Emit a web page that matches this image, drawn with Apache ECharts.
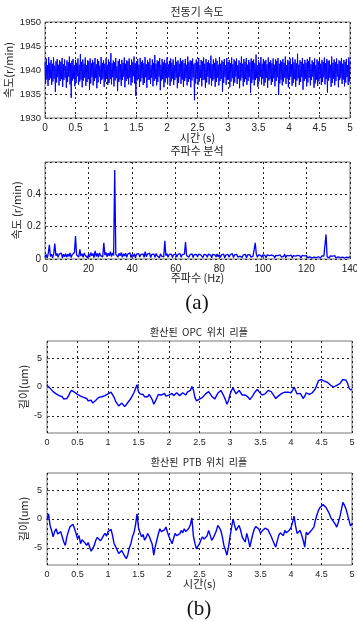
<!DOCTYPE html>
<html><head><meta charset="utf-8">
<script src="https://cdn.jsdelivr.net/npm/echarts@6/dist/echarts.min.js"></script>
<style>html,body{margin:0;padding:0;background:#fff}#c{width:357px;height:621px}</style>
</head><body><div id="c"></div>
<script>
// ---- data ----
const speedDt = 0.01; // s per sample
const speedVals = [
1941.6,1937.2,1942.4,1938.0,1941.0,1936.7,1942.7,1937.9,1941.5,1938.3,1942.1,1936.9,1941.3,1937.6,1942.6,1938.2,1940.9,1935.4,1941.8,1937.4,1942.3,1938.5,1941.1,1936.8,1942.0,
1937.7,1941.7,1938.1,1942.5,1936.5,1941.2,1937.9,1942.2,1938.4,1940.8,1936.3,1942.0,1937.5,1941.6,1938.6,1942.8,1937.0,1941.4,1934.2,1941.9,1937.8,1942.3,1938.2,1941.0,1936.6,
1942.1,1937.3,1941.5,1938.7,1942.4,1936.9,1941.1,1937.6,1943.3,1938.0,1941.7,1936.4,1942.2,1937.8,1941.3,1938.4,1942.6,1936.7,1941.0,1937.5,1942.0,1938.1,1941.8,1935.9,1942.4,
1937.2,1941.4,1938.5,1942.1,1936.8,1941.6,1937.7,1942.5,1938.3,1941.2,1936.2,1942.3,1937.4,1941.9,1938.6,1940.9,1937.1,1942.7,1937.9,1941.5,1938.2,1942.0,1936.5,1941.3,1937.6,
1942.4,1938.4,1941.1,1936.9,1942.2,1937.3,1941.7,1938.1,1943.5,1937.0,1941.4,1938.5,1942.0,1936.6,1941.6,1937.8,1942.5,1938.3,1940.8,1935.6,1941.9,1937.5,1942.3,1938.0,1941.2,
1936.7,1942.1,1937.9,1941.5,1938.6,1942.6,1936.4,1941.3,1937.7,1942.0,1938.2,1941.8,1937.0,1942.4,1938.4,1941.0,1936.8,1942.2,1937.4,1941.6,1938.7,1942.8,1937.2,1941.4,1934.6,
1941.8,1937.8,1942.3,1938.1,1941.1,1936.5,1942.5,1937.6,1941.7,1938.3,1942.0,1936.9,1941.4,1937.3,1942.7,1938.5,1941.2,1936.3,1942.1,1937.9,1941.6,1938.0,1942.4,1937.1,1941.0,
1938.4,1942.2,1936.6,1941.5,1937.7,1943.1,1938.2,1941.3,1936.8,1942.0,1937.5,1941.8,1938.6,1942.5,1935.8,1941.1,1937.8,1942.3,1938.1,1941.6,1936.4,1942.1,1937.4,1941.4,1938.3,
1942.6,1937.0,1941.2,1938.5,1941.9,1936.7,1942.4,1937.6,1941.5,1938.2,1942.2,1936.9,1941.0,1937.9,1942.7,1938.4,1941.7,1936.2,1942.0,1937.3,1941.3,1938.6,1942.5,1937.1,1941.8,
1938.0,1942.1,1936.5,1941.4,1937.7,1942.3,1938.3,1941.1,1936.8,1942.8,1937.5,1941.6,1938.1,1942.0,1936.4,1941.9,1937.8,1942.4,1938.5,1941.2,1933.7,1941.5,1937.2,1942.2,1938.2,
1941.7,1936.9,1942.5,1937.6,1941.0,1938.4,1942.1,1936.6,1941.8,1937.9,1942.6,1938.0,1941.3,1936.3,1942.3,1937.4,1941.6,1938.6,1942.0,1937.0,1941.4,1938.3,1943.0,1936.7,1941.2,
1937.8,1942.2,1938.1,1941.5,1936.5,1942.4,1937.5,1941.9,1938.4,1941.1,1936.8,1942.7,1937.7,1941.3,1938.2,1942.0,1935.5,1941.7,1937.3,1942.3,1938.5,1941.0,1936.9,1942.5,1937.9,
1941.6,1938.0,1942.1,1936.4,1941.4,1937.6,1942.6,1938.3,1941.2,1936.7,1942.2,1937.4,1941.8,1938.6,1942.4,1937.1,1941.0,1938.2,1942.0,1936.2,1941.5,1937.8,1942.8,1938.4,1941.3,
1936.6,1942.3,1937.5,1941.7,1938.1,1942.5,1936.9,1941.1,1937.7,1942.1,1938.5,1941.6,1935.2,1942.4,1937.3,1941.9,1938.0,1942.2,1936.8,1941.4,1937.9,1943.2,1938.3,1941.0,1936.5,
1942.0,1937.6,1941.5,1938.6,1942.7,1937.0,1941.3,1938.2,1942.3,1936.7,1941.8,1937.4,1942.1,1938.4,1941.2,1936.3,1942.6,1937.8,1941.6,1938.1,1942.0,1936.9,1941.4,1937.5,1942.4,
1938.3,1941.1,1936.6,1942.2,1937.7,1941.9,1938.5,1942.5,1934.8,1941.3,1937.2,1942.0,1938.0,1941.7,1936.8,1942.3,1937.6,1941.5,1938.4,1942.8,1937.1,1941.0,1938.2,1942.1,1936.4,
1941.8,1937.9,1942.4,1938.6,1941.2,1936.7,1942.6,1937.3,1941.6,1938.1,1942.2,1936.5,1941.4,1937.8,1943.4,1938.3,1941.1,1936.9,1942.0,1937.5,1941.7,1938.5,1942.5,1935.9,1941.3,
1937.7,1942.1,1938.2,1941.5,1936.6,1942.3,1937.4,1941.9,1938.4,1942.7,1936.8,1941.2,1937.9,1942.0,1938.6,1941.6,1936.3,1942.4,1937.2,1941.0,1938.0,1942.2,1936.7,1941.8,1937.6,
1942.5,1938.3,1941.3,1936.9,1942.1,1937.5,1941.7,1938.5,1942.6,1937.0,1941.4,1938.1,1942.3,1935.3,1941.9,1937.8,1942.0,1938.4,1941.1,1936.5,1942.8,1937.3,1941.5,1938.2,1942.2,
1936.8,1941.6,1937.7,1942.4,1938.6,1941.2,1936.4,1942.0,1937.9,1941.8,1938.3,1942.5,1937.1,1941.3,1938.0,1942.1,1936.6,1941.7,1937.4,1942.3,1938.5,1941.0,1936.9,1942.6,1937.6,
1941.9
];
const specDf = 0.5; // Hz per bin
const specVals = [
0.012,0.028,0.006,0.035,0.088,0.015,0.030,0.008,0.032,0.095,0.020,0.034,0.010,0.030,0.018,0.036,0.007,0.029,0.014,0.033,
0.011,0.030,0.016,0.038,0.009,0.027,0.020,0.040,0.142,0.025,0.036,0.012,0.060,0.018,0.033,0.010,0.037,0.022,0.031,0.008,
0.030,0.012,0.040,0.020,0.034,0.009,0.050,0.016,0.035,0.011,0.038,0.021,0.030,0.013,0.100,0.024,0.040,0.014,0.036,0.020,
0.045,0.015,0.038,0.022,0.550,0.030,0.042,0.012,0.035,0.020,0.040,0.010,0.033,0.018,0.036,0.011,0.030,0.020,0.038,0.009,
0.028,0.015,0.033,0.008,0.030,0.019,0.034,0.012,0.027,0.020,0.031,0.010,0.045,0.014,0.030,0.022,0.036,0.009,0.028,0.017,
0.030,0.011,0.034,0.020,0.027,0.008,0.032,0.018,0.029,0.013,0.112,0.020,0.033,0.010,0.028,0.016,0.030,0.009,0.026,0.019,
0.031,0.012,0.028,0.020,0.033,0.010,0.027,0.017,0.030,0.105,0.022,0.030,0.011,0.026,0.018,0.032,0.009,0.027,0.015,0.029,
0.012,0.030,0.020,0.026,0.035,0.009,0.028,0.016,0.025,0.011,0.030,0.018,0.024,0.008,0.029,0.020,0.026,0.012,0.031,0.014,
0.027,0.010,0.025,0.019,0.030,0.008,0.024,0.016,0.028,0.011,0.026,0.020,0.033,0.009,0.025,0.015,0.029,0.012,0.024,0.018,
0.030,0.010,0.026,0.016,0.028,0.008,0.025,0.020,0.027,0.012,0.024,0.018,0.029,0.100,0.030,0.011,0.026,0.017,0.023,0.009,
0.025,0.014,0.022,0.008,0.026,0.016,0.021,0.010,0.024,0.013,0.020,0.007,0.023,0.015,0.021,0.009,0.025,0.012,0.020,0.016,
0.030,0.008,0.022,0.014,0.019,0.010,0.024,0.007,0.021,0.015,0.018,0.009,0.023,0.012,0.020,0.006,0.022,0.014,0.019,0.010,
0.021,0.008,0.018,0.013,0.022,0.007,0.019,0.012,0.020,0.009,0.017,0.014,0.021,0.006,0.019,0.011,0.018,0.008,0.152,0.013,
0.018,0.007,0.020,0.012,0.017,0.009,0.021,0.006,0.018,0.013,0.016,0.008,0.020,0.011,0.017,0.007,0.019,0.012,0.016,0.009,
0.015
];
const rippleDt = 0.025; // s per sample
const opcVals = [
0.3,0.6,-0.2,-0.5,-0.8,-1.1,-1.2,-1.5,-1.5,-1.4,
-1.7,-2.1,-2.3,-2.0,-1.6,-1.0,-0.6,-0.7,-0.9,-1.2,
-1.3,-1.1,-1.6,-1.9,-1.8,-1.6,-2.0,-2.4,-2.5,-2.3,
-2.8,-2.6,-2.3,-2.0,-1.8,-2.1,-1.7,-1.9,-1.5,-1.6,
-1.2,-1.4,-0.9,-1.2,-1.8,-2.5,-2.9,-3.3,-3.2,-2.8,
-3.0,-3.4,-3.1,-2.7,-2.4,-2.0,-1.5,-1.0,-0.3,0.4,
-0.8,-1.2,-1.5,-1.3,-1.7,-2.0,-1.7,-1.3,-1.4,-2.2,
-3.0,-2.5,-1.9,-1.3,-1.0,-1.4,-1.3,-1.1,-1.6,-1.8,
-1.4,-1.2,-1.1,-1.5,-1.2,-1.0,-1.3,-1.5,-1.2,-1.0,
-1.2,-1.4,-0.9,-1.1,-0.6,0.1,-0.5,-1.8,-2.4,-2.6,
-2.1,-2.3,-1.8,-1.5,-1.2,-1.4,-0.8,-1.1,-1.6,-1.9,
-2.1,-1.6,-1.1,-0.8,-0.6,-0.9,-1.6,-2.2,-3.0,-2.4,
-1.3,-0.6,-0.2,-0.5,-1.2,-0.9,-0.6,-1.0,-1.4,-1.1,
-1.4,-1.7,-1.8,-2.2,-1.9,-1.5,-1.0,-0.7,-0.4,-0.8,
-1.1,-1.4,-1.6,-1.2,-0.9,-0.6,-0.4,-0.8,-1.2,-1.6,
-2.0,-1.8,-1.5,-1.2,-1.1,-1.3,-0.9,-1.1,-0.9,-0.7,
-1.0,-0.6,0.0,-0.6,-1.2,-1.0,-1.1,-1.5,-2.0,-1.6,
-1.0,-1.2,-1.3,-1.1,-1.0,-0.8,-0.3,0.4,1.1,1.2,
1.3,1.0,1.0,1.2,0.8,0.5,0.3,0.6,0.0,-0.2,
0.3,0.1,0.6,0.9,1.3,1.5,1.2,0.7,-0.1,-0.5,
-0.4
];
const ptbVals = [
-0.2,0.9,-1.1,-2.0,-3.1,-2.2,-1.7,-2.6,-2.5,-2.2,
-3.1,-4.0,-4.6,-3.1,-2.2,-1.4,-1.3,-0.9,-1.6,-2.5,
-3.4,-2.9,-4.3,-3.6,-3.7,-4.2,-4.6,-4.1,-4.9,-5.6,
-5.4,-4.6,-3.7,-3.2,-3.1,-3.8,-3.4,-2.9,-2.5,-3.0,
-2.2,-1.9,-1.8,-2.9,-4.3,-4.8,-5.4,-6.0,-6.3,-5.5,
-6.0,-6.5,-6.9,-6.2,-5.0,-4.3,-3.1,-2.4,-1.1,0.9,
-1.5,-2.4,-3.1,-2.7,-3.7,-3.2,-2.5,-3.0,-3.7,-4.4,
-6.3,-4.8,-3.7,-2.6,-1.7,-2.2,-2.5,-1.9,-1.4,-2.3,
-3.1,-3.7,-4.3,-3.4,-2.5,-2.9,-3.1,-2.6,-2.0,-2.4,
-1.7,-2.2,-2.0,-1.6,-1.0,0.2,-3.0,-4.2,-5.2,-4.7,
-4.3,-3.6,-3.1,-3.5,-3.7,-2.9,-2.0,-2.8,-3.7,-3.3,
-3.1,-2.1,-1.1,-1.5,-2.0,-3.1,-4.6,-5.4,-6.3,-4.9,
-3.1,-1.5,0.0,-1.1,-2.0,-1.5,-1.1,-2.0,-3.1,-3.6,
-4.0,-2.5,-3.5,-4.9,-3.7,-2.6,-1.7,-1.3,-1.1,-1.8,
-2.5,-2.1,-2.0,-1.6,-1.4,-1.9,-2.5,-3.0,-3.7,-4.3,
-4.9,-3.8,-2.8,-2.4,-2.5,-2.9,-2.0,-2.4,-2.3,-1.9,
-1.5,-0.6,0.5,-1.2,-2.5,-2.2,-2.0,-2.8,-3.7,-4.9,
-2.3,-2.7,-2.5,-2.1,-2.3,-1.4,-0.2,0.7,1.5,2.0,
2.2,2.5,2.2,2.0,1.5,1.0,0.3,0.0,-0.5,-0.9,
-1.4,-0.6,0.3,1.6,2.9,2.4,1.8,0.8,-0.2,-1.2,
-0.8
];
const rippleTicks = [-5, 0, 5];

// ---- chart ----
const FONT = '"Liberation Sans", "Noto Sans CJK KR", sans-serif';
const KFONT = '"Noto Sans CJK KR", "Liberation Sans", sans-serif';
const chart = echarts.init(document.getElementById('c'), null, {renderer: 'canvas'});
const gridLine = {show: true, lineStyle: {color: '#222', width: 1, type: [2, 3]}};
const tick = {show: true, inside: true, length: 3, lineStyle: {color: '#555'}};
const plain = v => String(v);
function xAx(gi, min, max, interval, name, gap, fs) {
  return {gridIndex: gi, type: 'value', min, max, interval,
    axisLine: {show: false}, axisTick: tick, splitLine: gridLine,
    axisLabel: {color: '#222', fontSize: fs, fontFamily: FONT, margin: 5, formatter: plain},
    name, nameLocation: 'middle', nameGap: gap, nameMoveOverlap: false,
    nameTextStyle: {color: '#222', fontSize: 11, fontFamily: KFONT}};
}
function yAx(gi, min, max, interval, name, gap, fs, extra) {
  const a = {gridIndex: gi, type: 'value', min, max, interval,
    axisLine: {show: false}, axisTick: Object.assign({}, tick), splitLine: gridLine,
    axisLabel: {color: '#222', fontSize: fs, fontFamily: FONT, margin: 4, formatter: plain},
    name, nameLocation: 'middle', nameGap: gap, nameRotate: 90, nameMoveOverlap: false,
    nameTextStyle: {color: '#222', fontSize: 11, fontFamily: KFONT}};
  return Object.assign(a, extra || {});
}
const lineS = (xi, data, w) => ({type: 'line', xAxisIndex: xi, yAxisIndex: xi, data,
  showSymbol: false, symbol: 'none', animation: false, silent: true,
  lineStyle: {color: '#0000ff', width: w}, clip: true});
const gridBase = {show: true, borderColor: '#777', borderWidth: 1, backgroundColor: 'transparent',
  containLabel: false, outerBoundsMode: 'none'};

const option = {
  backgroundColor: '#fff',
  animation: false,
  grid: [
    Object.assign({left: 45, top: 22, width: 305, height: 96}, gridBase),
    Object.assign({left: 45, top: 162, width: 305, height: 97}, gridBase),
    Object.assign({left: 47, top: 341, width: 305, height: 92}, gridBase),
    Object.assign({left: 47, top: 473, width: 305, height: 92}, gridBase)
  ],
  xAxis: [
    xAx(0, 0, 5, 0.5, '시간 (s)', 14, 10),
    xAx(1, 0, 140, 20, '주파수 (Hz)', 13, 10),
    xAx(2, 0, 5, 0.5, '', 10, 9),
    xAx(3, 0, 5, 0.5, '시간(s)', 13, 9)
  ],
  yAxis: [
    yAx(0, 1930, 1950, 5, '속도(r/min)', 31, 9.5),
    yAx(1, 0, 0.6, 0.2, '속도 (r/min)', 23, 10, {axisLabel: {color: '#222', fontSize: 10, fontFamily: FONT, margin: 4,
      formatter: v => (v > 0.55 ? '' : String(v))}}),
    yAx(2, -8, 8, null, '길이(um)', 18, 9, {
      axisLabel: {color: '#222', fontSize: 9, fontFamily: FONT, margin: 5, customValues: rippleTicks, formatter: plain},
      axisTick: {show: true, inside: true, length: 3, lineStyle: {color: '#555'}, customValues: rippleTicks}}),
    yAx(3, -8, 8, null, '길이(um)', 18, 9, {
      axisLabel: {color: '#222', fontSize: 9, fontFamily: FONT, margin: 5, customValues: rippleTicks, formatter: plain},
      axisTick: {show: true, inside: true, length: 3, lineStyle: {color: '#555'}, customValues: rippleTicks}})
  ],
  series: [
    lineS(0, speedVals.map((v, i) => [i * speedDt, v]), 1),
    lineS(1, specVals.map((v, i) => [i * specDf, v]), 1.3),
    lineS(2, opcVals.map((v, i) => [i * rippleDt, v]), 1.4),
    lineS(3, ptbVals.map((v, i) => [i * rippleDt, v]), 1.4)
  ],
  graphic: [
    {type: 'text', x: 197, y: 12, style: {text: '전동기 속도', font: '11px ' + KFONT, fill: '#222', align: 'center', verticalAlign: 'middle'}},
    {type: 'text', x: 197, y: 151, style: {text: '주파수 분석', font: '11px ' + KFONT, fill: '#222', align: 'center', verticalAlign: 'middle'}},
    {type: 'text', x: 197, y: 303, style: {text: '(a)', font: '21px "Liberation Serif", serif', fill: '#111', align: 'center', verticalAlign: 'middle'}},
    {type: 'text', x: 199, y: 332, style: {text: '환산된  OPC  위치  리플', font: '10px ' + KFONT, fill: '#222', align: 'center', verticalAlign: 'middle'}},
    {type: 'text', x: 199, y: 462, style: {text: '환산된  PTB  위치  리플', font: '10px ' + KFONT, fill: '#222', align: 'center', verticalAlign: 'middle'}},
    {type: 'text', x: 199, y: 609, style: {text: '(b)', font: '21px "Liberation Serif", serif', fill: '#111', align: 'center', verticalAlign: 'middle'}}
  ]
};
chart.setOption(option);
</script>
</body></html>
